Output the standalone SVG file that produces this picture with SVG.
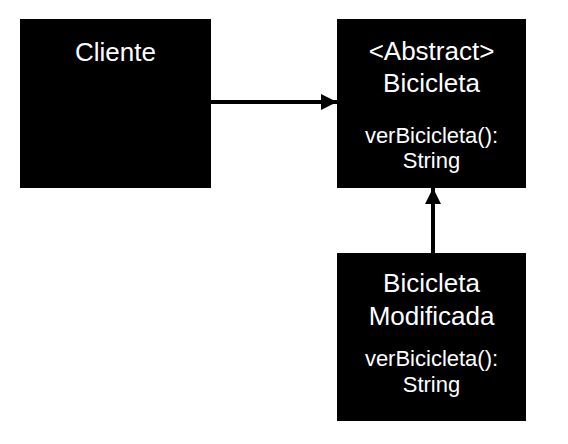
<svg xmlns="http://www.w3.org/2000/svg" width="568" height="444" viewBox="0 0 568 444">
<style>
.box{fill:#000}
.t{font-family:"Liberation Sans",Arial,sans-serif;fill:#fff;text-anchor:middle}
.ti{font-size:26px}
.m{font-size:22px}
.c{stroke:#000;stroke-width:4;fill:none}
</style>
<defs>
<marker id="ah" viewBox="0 0 10 10" refX="10" refY="5" markerWidth="4" markerHeight="4" markerUnits="strokeWidth" orient="auto">
<path d="M0,0 L10,5 L0,10 Z" fill="#000"/>
</marker>
</defs>
<rect width="568" height="444" fill="#fff"/>
<g id="cliente">
<rect class="box" x="20" y="19" width="191" height="169"/>
<text class="t ti" x="115.5" y="61">Cliente</text>
</g>
<g id="bicicleta">
<rect class="box" x="337" y="19" width="189" height="169"/>
<text class="t ti" x="431.5" y="60">&lt;Abstract&gt;</text>
<text class="t ti" x="431.5" y="92">Bicicleta</text>
<text class="t m" x="431.5" y="143">verBicicleta():</text>
<text class="t m" x="431.5" y="168">String</text>
</g>
<g id="modificada">
<rect class="box" x="337" y="253" width="189" height="168"/>
<text class="t ti" x="431.5" y="292">Bicicleta</text>
<text class="t ti" x="431.5" y="325">Modificada</text>
<text class="t m" x="431.5" y="366">verBicicleta():</text>
<text class="t m" x="431.5" y="392">String</text>
</g>
<g id="connectors">
<line class="c" x1="211" y1="102" x2="337" y2="102" marker-end="url(#ah)"/>
<line class="c" x1="433" y1="253" x2="433" y2="188" marker-end="url(#ah)"/>
</g>
</svg>
